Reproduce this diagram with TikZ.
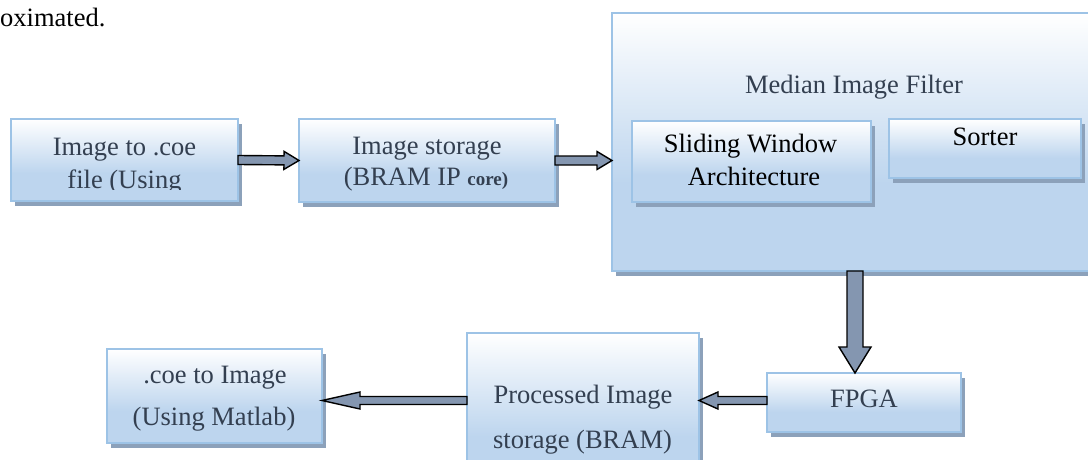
\documentclass[tikz,border=0pt]{standalone}
\usepackage{fontspec}
\setmainfont{Liberation Serif}
\usetikzlibrary{calc,shadows}

\definecolor{edgeblue}{HTML}{9DC3E6}
\definecolor{fillblue}{HTML}{BDD5EE}
\definecolor{shadowgray}{HTML}{8CA1BA}
\definecolor{arrowgray}{HTML}{8496B0}
\definecolor{inktext}{HTML}{333F50}

% white at the top, fading into light blue over the lower part
\pgfdeclareverticalshading{boxfade}{100bp}{color(0bp)=(fillblue); color(42bp)=(fillblue); color(75bp)=(white); color(100bp)=(white)}

\tikzset{
  panel/.style={draw=edgeblue, line width=1.8pt, shade, shading=boxfade,
    inner sep=0pt, outer sep=0pt,
    drop shadow={shadow xshift=3.5pt, shadow yshift=-5pt, fill=shadowgray, opacity=1}},
  linetext/.style={font=\fontsize{26.5}{30}\selectfont, text=inktext, anchor=base, inner sep=0pt},
  darktext/.style={linetext, text=black},
  flowarrow/.style={draw=black, line width=1.4pt, fill=arrowgray, line join=miter}
}

% block arrow: tail, tip, shaft half width, head half width, head length
\newcommand\blockarrow[5]{%
  \path ($(#2)!#5!(#1)$) coordinate (ahead);
  \draw[flowarrow] ($(#1)!#3!90:(#2)$) -- ($(ahead)!#3!90:(#2)$) -- ($(ahead)!#4!90:(#2)$)
    -- (#2) -- ($(ahead)!#4!-90:(#2)$) -- ($(ahead)!#3!-90:(#2)$) -- ($(#1)!#3!-90:(#2)$) -- cycle;}

\begin{document}
\begin{tikzpicture}[x=1pt, y=-1pt]
\path[use as bounding box, clip] (0,0) rectangle (1088,460);

\node[anchor=base west, inner sep=0pt, font=\fontsize{26.5}{30}\selectfont] (frag) at (0,27) {oximated.};

% median filter block with its two stages
\node[panel, minimum width=482pt, minimum height=258pt] (big) at (853,142) {};
\node[panel, minimum width=239pt, minimum height=81pt] (slide) at (751.5,161.5) {};
\node[panel, minimum width=192pt, minimum height=59pt] (sort) at (985,148.5) {};
\node[linetext] (bigt) at (854,93) {Median Image Filter};
\node[darktext] (slidet1) at (750.5,153) {Sliding Window};
\node[darktext] (slidet2) at (754,185) {Architecture};
\node[darktext] (sortt) at (985,146) {Sorter};

% upper row
\node[panel, minimum width=227pt, minimum height=82pt] (b1) at (124.5,160) {};
\node[panel, minimum width=256pt, minimum height=83pt] (b2) at (427,160.5) {};
\node[linetext] (b1t1) at (124.5,155) {Image to .coe};
\begin{scope}
  \clip (11,100) rectangle (238,189.5);
  \node[linetext] (b1t2) at (124.5,188) {file (Using};
\end{scope}
\node[linetext] (b2t1) at (427,154) {Image storage};
\node[linetext] (b2t2) at (426,185) {(BRAM IP {\fontsize{19}{22}\selectfont\bfseries core)}};

% lower row
\node[panel, minimum width=194pt, minimum height=59pt] (fpga) at (864,402.5) {};
\node[panel, minimum width=232pt, minimum height=157pt] (proc) at (583,411.5) {};
\node[panel, minimum width=215pt, minimum height=94pt] (coe) at (214.5,396) {};
\node[linetext] (fpgat) at (864,407) {FPGA};
\node[linetext] (proct1) at (583,403) {Processed Image};
\node[linetext] (proct2) at (582.5,448) {storage (BRAM)};
\node[linetext] (coet1) at (215,383) {.coe to Image};
\begin{scope}
  \clip (107,340) rectangle (322,440);
  \node[linetext] (coet2) at (214,425) {(Using Matlab)};
\end{scope}

% connectors
\coordinate (bigin) at (big.west |- b2.east);
\coordinate (bigout) at ([xshift=2pt]big.south);
\coordinate (fpgain) at (bigout |- fpga.north);
\coordinate (lowrow) at ([yshift=2pt]fpga.west);
\coordinate (procin) at (proc.east |- lowrow);
\coordinate (procout) at (proc.west |- lowrow);
\coordinate (coein) at (coe.east |- lowrow);

\blockarrow{b1.east}{b2.west}{4.5pt}{9pt}{15pt}
\blockarrow{b2.east}{bigin}{4.5pt}{9pt}{15pt}
\blockarrow{bigout}{fpgain}{8pt}{16pt}{26pt}
\blockarrow{lowrow}{procin}{4pt}{8.5pt}{19pt}
\blockarrow{procout}{coein}{4pt}{8.5pt}{38pt}
\end{tikzpicture}
\end{document}
